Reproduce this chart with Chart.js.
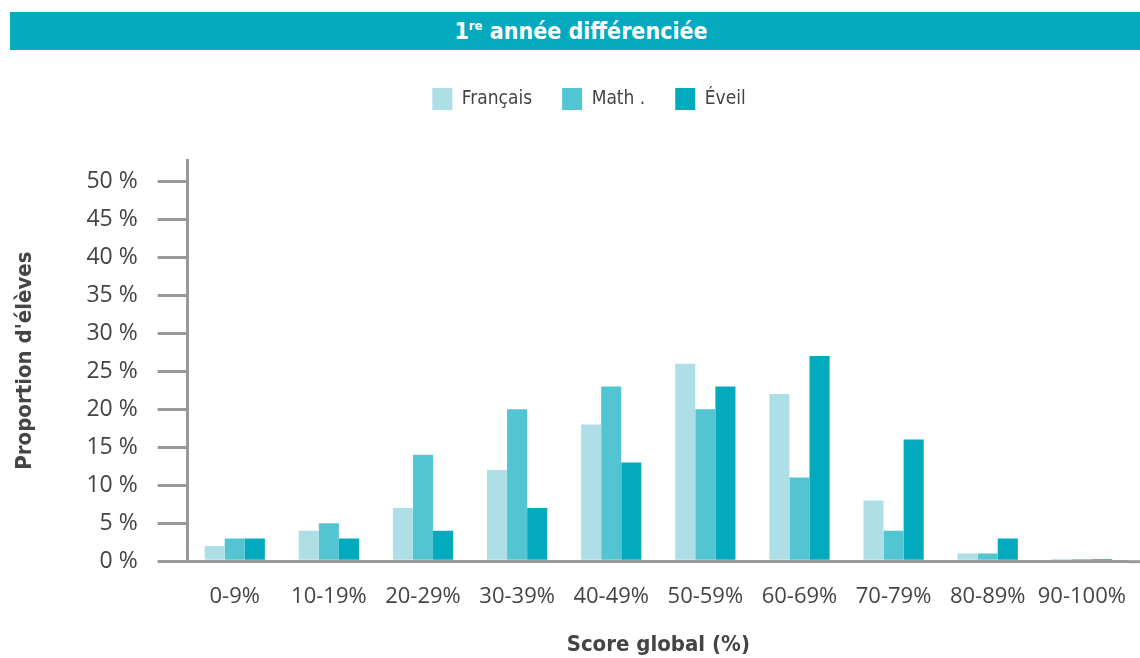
<!DOCTYPE html>
<html>
<head>
<meta charset="utf-8">
<script src="https://cdn.jsdelivr.net/npm/chart.js@4"></script>
<style>
  body { margin: 0; background: #fff; }
  #wrap { position: relative; width: 1140px; height: 658px; }
  #bandeau {
    position: absolute; left: 10px; top: 12px; width: 1118px; height: 38px; padding-left: 12px;
    background: #03aabd; color: #fff; text-align: center;
    font: bold 23px "DejaVu Sans Condensed", "DejaVu Sans", sans-serif; line-height: 38px;
  }
  #bandeau sup { font-size: 13px; line-height: 0; }
  canvas { position: absolute; left: 0; top: 0; }
</style>
</head>
<body>
<div id="wrap">
  <canvas id="chart" width="1140" height="658"></canvas>
  <div id="bandeau">1<sup>re</sup> année différenciée</div>
</div>
<script>
// donnees
const categories = ["0-9%", "10-19%", "20-29%", "30-39%", "40-49%", "50-59%", "60-69%", "70-79%", "80-89%", "90-100%"];
const francais = [2, 4, 7, 12, 18, 26, 22, 8, 1, 0.3];
const math = [3, 5, 14, 20, 23, 20, 11, 4, 1, 0.3];
const eveil = [3, 3, 4, 7, 13, 23, 27, 16, 3, 0.3];
const yTicks = [0, 5, 10, 15, 20, 25, 30, 35, 40, 45, 50];
const seriesNames = ["Français", "Math .", "Éveil"];
const seriesColors = ["#aedfe6", "#53c4d2", "#03aabd"];

const textColor = "#444";
const axisColor = "#999";

// espace sous la legende, et legende un peu a droite
const legendMargin = {
  id: "legendMargin",
  beforeInit(chart) {
    const fit = chart.legend.fit;
    chart.legend.fit = function () {
      fit.bind(chart.legend)();
      this.height += 40;
    };
  },
  afterLayout(chart) {
    chart.legend.left += 14;
    chart.legend.right += 14;
  },
};

// l'axe des x continue jusqu'au bord
const axisExtend = {
  id: "axisExtend",
  afterDraw(chart) {
    const c = chart.ctx;
    const y = chart.scales.x.top;
    c.save();
    c.strokeStyle = axisColor;
    c.lineWidth = 3;
    c.beginPath();
    c.moveTo(chart.chartArea.right, y + 0.5);
    c.lineTo(chart.width, y + 0.5);
    c.stroke();
    c.restore();
  },
};

const ctx = document.getElementById("chart");

new Chart(ctx, {
  type: "bar",
  data: {
    labels: categories,
    datasets: [
      { label: seriesNames[0], data: francais, backgroundColor: seriesColors[0] },
      { label: seriesNames[1], data: math, backgroundColor: seriesColors[1] },
      { label: seriesNames[2], data: eveil, backgroundColor: seriesColors[2] },
    ],
  },
  plugins: [legendMargin, axisExtend],
  options: {
    responsive: false,
    animation: false,
    categoryPercentage: 0.64,
    barPercentage: 1,
    layout: { padding: { top: 58, left: 12, right: 2, bottom: 0 } },
    plugins: {
      tooltip: { enabled: false },
      legend: {
        labels: {
          boxWidth: 20,
          boxHeight: 22,
          padding: 30,
          color: textColor,
          font: { family: "DejaVu Sans Condensed", size: 19 },
        },
      },
    },
    scales: {
      x: {
        grid: { display: false },
        border: { color: axisColor, width: 3 },
        ticks: {
          color: textColor,
          padding: 14,
          maxRotation: 0,
          font: { family: "Open Sans", size: 22 },
        },
        title: {
          display: true,
          text: "Score global (%)",
          color: textColor,
          padding: { top: 8, bottom: 0 },
          font: { family: "DejaVu Sans Condensed", size: 22, weight: "bold" },
        },
      },
      y: {
        min: 0,
        max: 52.8,
        afterBuildTicks: (scale) => {
          scale.ticks = yTicks.map((v) => ({ value: v }));
        },
        ticks: {
          color: textColor,
          padding: 20,
          font: { family: "Open Sans", size: 23 },
          callback: (v) => v + " %",
        },
        grid: {
          drawOnChartArea: false,
          tickLength: 30,
          color: axisColor,
          lineWidth: 3,
        },
        border: { color: axisColor, width: 3 },
        title: {
          display: true,
          text: "Proportion d'élèves",
          color: textColor,
          padding: { top: 0, bottom: 28 },
          font: { family: "DejaVu Sans Condensed", size: 22, weight: "bold" },
        },
      },
    },
  },
});
</script>
</body>
</html>
